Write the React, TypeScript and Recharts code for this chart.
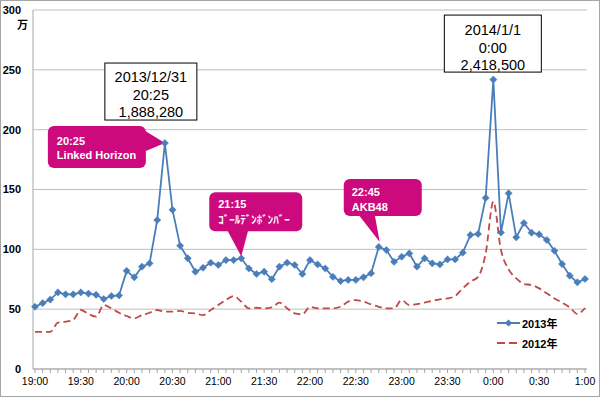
import React from 'react';
import {
  LineChart,
  Line,
  XAxis,
  YAxis,
  CartesianGrid,
  Legend,
  ReferenceDot,
} from 'recharts';

const times = [
  '19:00', '19:05', '19:10', '19:15', '19:20', '19:25', '19:30', '19:35', '19:40', '19:45', '19:50', '19:55',
  '20:00', '20:05', '20:10', '20:15', '20:20', '20:25', '20:30', '20:35', '20:40', '20:45', '20:50', '20:55',
  '21:00', '21:05', '21:10', '21:15', '21:20', '21:25', '21:30', '21:35', '21:40', '21:45', '21:50', '21:55',
  '22:00', '22:05', '22:10', '22:15', '22:20', '22:25', '22:30', '22:35', '22:40', '22:45', '22:50', '22:55',
  '23:00', '23:05', '23:10', '23:15', '23:20', '23:25', '23:30', '23:35', '23:40', '23:45', '23:50', '23:55',
  '0:00', '0:05', '0:10', '0:15', '0:20', '0:25', '0:30', '0:35', '0:40', '0:45', '0:50', '0:55',
  '1:00',
];

// 単位: 万
const tweets2013 = [
  52, 55, 58, 64, 62.4, 62.4, 64, 63, 62, 58.5, 61, 61.5,
  82, 76.6, 85.5, 88.3, 124.5, 188.828, 133, 103, 92.5, 81.3, 84.6, 88.8,
  86.9, 91, 91, 92.5, 84, 79.4, 81.3, 75, 85.5, 88.8, 86.9, 79.4,
  91, 87.4, 84, 77, 73.5, 74.4, 74.4, 76.6, 80, 102, 99.4, 89.6,
  93.8, 96.6, 85.5, 92.5, 88.3, 87.4, 91.6, 91.6, 97.2, 112, 112.8, 143,
  241.85, 114, 146.8, 110, 122, 113.9, 112.5, 107.8, 98.8, 87.7, 78, 72.4,
  75.2,
];

const tweets2012 = [
  31, 31, 31, 38.7, 39.5, 41, 49.3, 46, 43.7, 53.5, 50.7, 47,
  44.3, 42.3, 45, 47, 49.3, 47.9, 48, 48.5, 47, 46.5, 45, 49.3,
  53.5, 57.6, 61, 56.3, 50.7, 51.2, 50.7, 51.5, 55.4, 50.7, 46.5, 45.7,
  52, 50.7, 50.7, 50.7, 52, 56.3, 57.6, 56.3, 54, 52, 50.7, 50.7,
  57.6, 53.5, 54.3, 55.4, 57, 58.2, 59, 61, 67.4, 73, 77, 96.6,
  139.8, 99.4, 83.3, 75.8, 71, 70.2, 67.4, 63.2, 59, 55.4, 51.5, 46,
  51,
];

const yTicks = [0, 50, 100, 150, 200, 250, 300];

const data = times.map((t, i) => ({ time: t, y2013: tweets2013[i], y2012: tweets2012[i] }));

const BLUE = '#4A7EBB';
const RED = '#BE4B48';
const PINK = '#CC0A7E';
const FONT = '"Liberation Sans", Arial, "Noto Sans CJK JP", sans-serif';

const Diamond = (props: any) => {
  const { cx, cy, index } = props;
  if (cx == null || cy == null) return null;
  const r = 3.6;
  return (
    <path
      key={`dm-${index}`}
      d={`M${cx},${cy - r}L${cx + r},${cy}L${cx},${cy + r}L${cx - r},${cy}Z`}
      fill={BLUE}
      stroke={BLUE}
      strokeWidth={0.5}
    />
  );
};

// callout bubble with a tail pointing at the data point
const bubble = (
  rect: { x: number; y: number; w: number; h: number },
  tail: number[][],
  lines: { text: string; dx: number; dy: number }[]
) => (props: any) => {
  const { cx, cy } = props;
  const pts = tail.map(([dx, dy]) => `${cx + dx},${cy + dy}`).join(' ');
  return (
    <g>
      <rect x={cx + rect.x} y={cy + rect.y} width={rect.w} height={rect.h} rx={6} ry={6} fill={PINK} />
      <polygon points={pts} fill={PINK} />
      {lines.map((l) => (
        <text
          key={l.text}
          x={cx + l.dx}
          y={cy + l.dy}
          fill="#fff"
          fontSize={11}
          fontWeight="bold"
          fontFamily={FONT}
        >
          {l.text}
        </text>
      ))}
    </g>
  );
};

const valueBox = (
  rect: { x: number; y: number; w: number; h: number },
  lines: string[],
  firstDy: number,
  bubbleShape?: (p: any) => React.ReactElement
) => (props: any) => {
  const { cx, cy } = props;
  return (
    <g>
      <rect
        x={cx + rect.x}
        y={cy + rect.y}
        width={rect.w}
        height={rect.h}
        fill="#fff"
        stroke="#000"
        strokeWidth={1}
      />
      {lines.map((l, i) => (
        <text
          key={l}
          x={cx + rect.x + rect.w / 2}
          y={cy + firstDy + i * 17.5}
          textAnchor="middle"
          dominantBaseline="central"
          fontSize={14.5}
          fontFamily={FONT}
          fill="#000"
        >
          {l}
        </text>
      ))}
      {bubbleShape ? bubbleShape(props) : null}
    </g>
  );
};

const linkedHorizon = bubble(
  { x: -117, y: -17, w: 98, h: 42 },
  [[-26, -16], [0, 0], [-19, 8]],
  [
    { text: '20:25', dx: -108, dy: 2 },
    { text: 'Linked Horizon', dx: -108, dy: 16 },
  ]
);

const goldenBomber = bubble(
  { x: -32, y: -66, w: 93, h: 39 },
  [[-14, -28], [0, -2], [7, -28]],
  [
    { text: '21:15', dx: -23, dy: -50 },
    { text: 'ｺﾞｰﾙﾃﾞﾝﾎﾞﾝﾊﾞｰ', dx: -23, dy: -34 },
  ]
);

const akb48 = bubble(
  { x: -35, y: -68, w: 78, h: 37 },
  [[-20, -32], [1, -5], [-4, -32]],
  [
    { text: '22:45', dx: -27, dy: -51 },
    { text: 'AKB48', dx: -27, dy: -36 },
  ]
);

const peak2013 = valueBox({ x: -60, y: -80, w: 92, h: 57 }, ['2013/12/31', '20:25', '1,888,280'], -66, linkedHorizon);
const peak2014 = valueBox({ x: -49, y: -64.5, w: 97, h: 57 }, ['2014/1/1', '0:00', '2,418,500'], -49.5);

const LegendBox = () => (
  <div style={{ fontFamily: FONT, fontSize: 11, fontWeight: 'bold', color: '#000' }}>
    <div style={{ display: 'flex', alignItems: 'center', height: 20 }}>
      <svg width={26} height={10}>
        <line x1={1} y1={5} x2={24} y2={5} stroke={BLUE} strokeWidth={2} />
        <path d="M12.5,1.4L16.1,5L12.5,8.6L8.9,5Z" fill={BLUE} />
      </svg>
      <span>2013年</span>
    </div>
    <div style={{ display: 'flex', alignItems: 'center', height: 20 }}>
      <svg width={26} height={10}>
        <line x1={1} y1={5} x2={24} y2={5} stroke={RED} strokeWidth={2} strokeDasharray="8 4" />
      </svg>
      <span>2012年</span>
    </div>
  </div>
);

const xTickLabel = (v: string) => (v.endsWith(':00') || v.endsWith(':30') ? v : '');

const App: React.FC = () => {
  return (
    <div style={{ position: 'absolute', left: 0, top: 0, width: 600, height: 397, background: '#fff' }}>
      <LineChart width={600} height={397} data={data} margin={{ top: 10, right: 13, left: 0, bottom: 0 }}>
        <CartesianGrid vertical={false} stroke="#BFBFBF" />
        <XAxis
          dataKey="time"
          interval={0}
          tickFormatter={xTickLabel}
          padding={{ left: 2, right: 2 }}
          height={28}
          tickSize={4}
          tickMargin={5}
          stroke="#A6A6A6"
          tick={{ fill: '#000', fontSize: 10.5, fontFamily: FONT }}
        />
        <YAxis
          domain={[0, 300]}
          ticks={yTicks}
          width={33}
          tickLine={false}
          tickSize={6}
          tickMargin={6}
          stroke="#A6A6A6"
          tick={{ fill: '#000', fontSize: 11, fontWeight: 'bold', fontFamily: FONT }}
        />
        <Legend
          layout="vertical"
          align="center"
          verticalAlign="middle"
          content={() => <LegendBox />}
          wrapperStyle={{ left: 496, top: 313, width: 90 }}
        />
        <Line
          type="monotone"
          dataKey="y2012"
          name="2012年"
          stroke={RED}
          strokeWidth={1.8}
          strokeDasharray="7 4"
          dot={false}
          isAnimationActive={false}
        />
        <Line
          type="linear"
          dataKey="y2013"
          name="2013年"
          stroke={BLUE}
          strokeWidth={1.8}
          dot={Diamond}
          activeDot={false}
          isAnimationActive={false}
        />
        <ReferenceDot x="20:25" y={tweets2013[17]} shape={peak2013} ifOverflow="visible" />
        <ReferenceDot x="21:15" y={tweets2013[27]} shape={goldenBomber} ifOverflow="visible" />
        <ReferenceDot x="22:45" y={tweets2013[45]} shape={akb48} ifOverflow="visible" />
        <ReferenceDot x="0:00" y={tweets2013[60]} shape={peak2014} ifOverflow="visible" />
        <text x={17} y={29} fontSize={11} fontWeight="bold" fontFamily={FONT} fill="#000">
          万
        </text>
      </LineChart>
      <div
        style={{
          position: 'absolute',
          left: 0,
          top: 0,
          width: 600,
          height: 397,
          boxSizing: 'border-box',
          border: '1px solid #A6A6A6',
          pointerEvents: 'none',
        }}
      />
    </div>
  );
};

export default App;
